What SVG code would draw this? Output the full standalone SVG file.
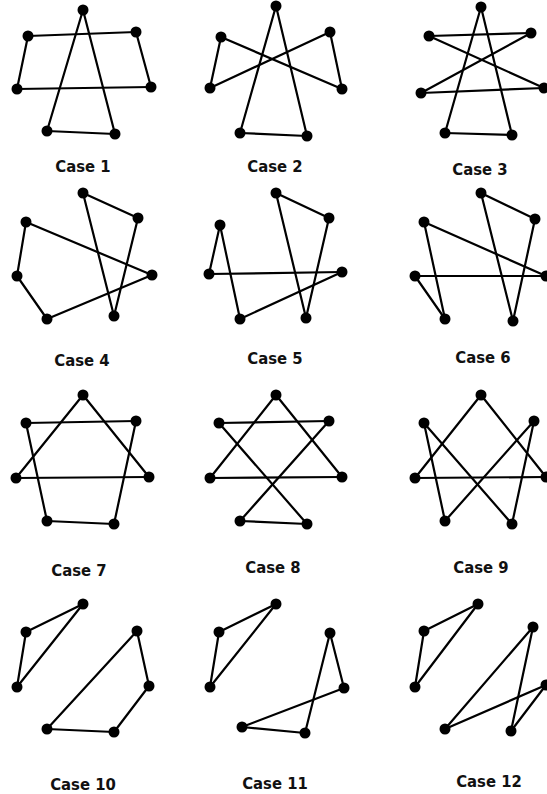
<svg xmlns="http://www.w3.org/2000/svg" width="547" height="794" viewBox="0 0 547 794">
<style>
.e line{stroke:#000;stroke-width:2.2;stroke-linecap:round}
.n circle{fill:#000}
text{font-family:"DejaVu Sans Condensed","DejaVu Sans",sans-serif;font-stretch:condensed;font-weight:bold;font-size:16.5px;fill:#111;text-anchor:middle}
</style>
<rect width="547" height="794" fill="#fff"/>
<g id="connectors" class="e">
<!-- case 1 -->
<line x1="83" y1="10" x2="47" y2="131"/><line x1="83" y1="10" x2="115" y2="134"/><line x1="28" y1="36" x2="136" y2="32"/><line x1="28" y1="36" x2="17" y2="89"/><line x1="136" y1="32" x2="151" y2="87"/><line x1="17" y1="89" x2="151" y2="87"/><line x1="47" y1="131" x2="115" y2="134"/>
<!-- case 2 -->
<line x1="276" y1="6" x2="240" y2="133"/><line x1="276" y1="6" x2="307" y2="136"/><line x1="221" y1="37" x2="210" y2="88"/><line x1="221" y1="37" x2="342" y2="89"/><line x1="330" y1="32" x2="210" y2="88"/><line x1="330" y1="32" x2="342" y2="89"/><line x1="240" y1="133" x2="307" y2="136"/>
<!-- case 3 -->
<line x1="481" y1="7" x2="445" y2="133"/><line x1="481" y1="7" x2="512" y2="135"/><line x1="429" y1="36" x2="531" y2="33"/><line x1="429" y1="36" x2="544" y2="88"/><line x1="531" y1="33" x2="421" y2="93"/><line x1="421" y1="93" x2="544" y2="88"/><line x1="445" y1="133" x2="512" y2="135"/>
<!-- case 4 -->
<line x1="83" y1="193" x2="138" y2="218"/><line x1="83" y1="193" x2="114" y2="316"/><line x1="138" y1="218" x2="114" y2="316"/><line x1="26" y1="222" x2="152" y2="275"/><line x1="26" y1="222" x2="17" y2="276"/><line x1="17" y1="276" x2="47" y2="319"/><line x1="47" y1="319" x2="152" y2="275"/>
<!-- case 5 -->
<line x1="276" y1="193" x2="329" y2="218"/><line x1="276" y1="193" x2="306" y2="318"/><line x1="329" y1="218" x2="306" y2="318"/><line x1="220" y1="225" x2="209" y2="274"/><line x1="220" y1="225" x2="240" y2="319"/><line x1="209" y1="274" x2="342" y2="272"/><line x1="240" y1="319" x2="342" y2="272"/>
<!-- case 6 -->
<line x1="481" y1="193" x2="535" y2="219"/><line x1="481" y1="193" x2="513" y2="321"/><line x1="535" y1="219" x2="513" y2="321"/><line x1="424" y1="222" x2="546" y2="276"/><line x1="424" y1="222" x2="445" y2="319"/><line x1="415" y1="276" x2="546" y2="276"/><line x1="415" y1="276" x2="445" y2="319"/>
<!-- case 7 -->
<line x1="83" y1="395" x2="16" y2="478"/><line x1="83" y1="395" x2="149" y2="477"/><line x1="26" y1="423" x2="136" y2="421"/><line x1="26" y1="423" x2="47" y2="521"/><line x1="136" y1="421" x2="114" y2="524"/><line x1="16" y1="478" x2="149" y2="477"/><line x1="47" y1="521" x2="114" y2="524"/>
<!-- case 8 -->
<line x1="276" y1="395" x2="210" y2="478"/><line x1="276" y1="395" x2="342" y2="477"/><line x1="219" y1="423" x2="329" y2="421"/><line x1="219" y1="423" x2="307" y2="524"/><line x1="329" y1="421" x2="240" y2="521"/><line x1="210" y1="478" x2="342" y2="477"/><line x1="240" y1="521" x2="307" y2="524"/>
<!-- case 9 -->
<line x1="481" y1="395" x2="415" y2="478"/><line x1="481" y1="395" x2="546" y2="477"/><line x1="424" y1="423" x2="445" y2="521"/><line x1="424" y1="423" x2="512" y2="524"/><line x1="534" y1="421" x2="445" y2="521"/><line x1="534" y1="421" x2="512" y2="524"/><line x1="415" y1="478" x2="546" y2="477"/>
<!-- case 10 -->
<line x1="83" y1="604" x2="26" y2="632"/><line x1="83" y1="604" x2="17" y2="687"/><line x1="26" y1="632" x2="17" y2="687"/><line x1="137" y1="631" x2="47" y2="729"/><line x1="137" y1="631" x2="149" y2="686"/><line x1="149" y1="686" x2="114" y2="732"/><line x1="47" y1="729" x2="114" y2="732"/>
<!-- case 11 -->
<line x1="276" y1="604" x2="219" y2="632"/><line x1="276" y1="604" x2="210" y2="687"/><line x1="219" y1="632" x2="210" y2="687"/><line x1="330" y1="633" x2="305" y2="733"/><line x1="330" y1="633" x2="344" y2="688"/><line x1="344" y1="688" x2="242" y2="727"/><line x1="242" y1="727" x2="305" y2="733"/>
<!-- case 12 -->
<line x1="478" y1="604" x2="424" y2="631"/><line x1="478" y1="604" x2="415" y2="687"/><line x1="424" y1="631" x2="415" y2="687"/><line x1="533" y1="627" x2="445" y2="729"/><line x1="533" y1="627" x2="511" y2="731"/><line x1="546" y1="685" x2="445" y2="729"/><line x1="546" y1="685" x2="511" y2="731"/>
</g>
<g id="nodes" class="n">
<g id="c1-a"><circle cx="83" cy="10" r="5.5"/></g><g id="c1-b"><circle cx="28" cy="36" r="5.5"/></g><g id="c1-c"><circle cx="136" cy="32" r="5.5"/></g><g id="c1-d"><circle cx="17" cy="89" r="5.5"/></g><g id="c1-e"><circle cx="151" cy="87" r="5.5"/></g><g id="c1-f"><circle cx="47" cy="131" r="5.5"/></g><g id="c1-g"><circle cx="115" cy="134" r="5.5"/></g>
<g id="c2-a"><circle cx="276" cy="6" r="5.5"/></g><g id="c2-b"><circle cx="221" cy="37" r="5.5"/></g><g id="c2-c"><circle cx="330" cy="32" r="5.5"/></g><g id="c2-d"><circle cx="210" cy="88" r="5.5"/></g><g id="c2-e"><circle cx="342" cy="89" r="5.5"/></g><g id="c2-f"><circle cx="240" cy="133" r="5.5"/></g><g id="c2-g"><circle cx="307" cy="136" r="5.5"/></g>
<g id="c3-a"><circle cx="481" cy="7" r="5.5"/></g><g id="c3-b"><circle cx="429" cy="36" r="5.5"/></g><g id="c3-c"><circle cx="531" cy="33" r="5.5"/></g><g id="c3-d"><circle cx="421" cy="93" r="5.5"/></g><g id="c3-e"><circle cx="544" cy="88" r="5.5"/></g><g id="c3-f"><circle cx="445" cy="133" r="5.5"/></g><g id="c3-g"><circle cx="512" cy="135" r="5.5"/></g>
<g id="c4-a"><circle cx="83" cy="193" r="5.5"/></g><g id="c4-b"><circle cx="26" cy="222" r="5.5"/></g><g id="c4-c"><circle cx="138" cy="218" r="5.5"/></g><g id="c4-d"><circle cx="17" cy="276" r="5.5"/></g><g id="c4-e"><circle cx="152" cy="275" r="5.5"/></g><g id="c4-f"><circle cx="47" cy="319" r="5.5"/></g><g id="c4-g"><circle cx="114" cy="316" r="5.5"/></g>
<g id="c5-a"><circle cx="276" cy="193" r="5.5"/></g><g id="c5-b"><circle cx="220" cy="225" r="5.5"/></g><g id="c5-c"><circle cx="329" cy="218" r="5.5"/></g><g id="c5-d"><circle cx="209" cy="274" r="5.5"/></g><g id="c5-e"><circle cx="342" cy="272" r="5.5"/></g><g id="c5-f"><circle cx="240" cy="319" r="5.5"/></g><g id="c5-g"><circle cx="306" cy="318" r="5.5"/></g>
<g id="c6-a"><circle cx="481" cy="193" r="5.5"/></g><g id="c6-b"><circle cx="424" cy="222" r="5.5"/></g><g id="c6-c"><circle cx="535" cy="219" r="5.5"/></g><g id="c6-d"><circle cx="415" cy="276" r="5.5"/></g><g id="c6-e"><circle cx="546" cy="276" r="5.5"/></g><g id="c6-f"><circle cx="445" cy="319" r="5.5"/></g><g id="c6-g"><circle cx="513" cy="321" r="5.5"/></g>
<g id="c7-a"><circle cx="83" cy="395" r="5.5"/></g><g id="c7-b"><circle cx="26" cy="423" r="5.5"/></g><g id="c7-c"><circle cx="136" cy="421" r="5.5"/></g><g id="c7-d"><circle cx="16" cy="478" r="5.5"/></g><g id="c7-e"><circle cx="149" cy="477" r="5.5"/></g><g id="c7-f"><circle cx="47" cy="521" r="5.5"/></g><g id="c7-g"><circle cx="114" cy="524" r="5.5"/></g>
<g id="c8-a"><circle cx="276" cy="395" r="5.5"/></g><g id="c8-b"><circle cx="219" cy="423" r="5.5"/></g><g id="c8-c"><circle cx="329" cy="421" r="5.5"/></g><g id="c8-d"><circle cx="210" cy="478" r="5.5"/></g><g id="c8-e"><circle cx="342" cy="477" r="5.5"/></g><g id="c8-f"><circle cx="240" cy="521" r="5.5"/></g><g id="c8-g"><circle cx="307" cy="524" r="5.5"/></g>
<g id="c9-a"><circle cx="481" cy="395" r="5.5"/></g><g id="c9-b"><circle cx="424" cy="423" r="5.5"/></g><g id="c9-c"><circle cx="534" cy="421" r="5.5"/></g><g id="c9-d"><circle cx="415" cy="478" r="5.5"/></g><g id="c9-e"><circle cx="546" cy="477" r="5.5"/></g><g id="c9-f"><circle cx="445" cy="521" r="5.5"/></g><g id="c9-g"><circle cx="512" cy="524" r="5.5"/></g>
<g id="c10-a"><circle cx="83" cy="604" r="5.5"/></g><g id="c10-b"><circle cx="26" cy="632" r="5.5"/></g><g id="c10-c"><circle cx="137" cy="631" r="5.5"/></g><g id="c10-d"><circle cx="17" cy="687" r="5.5"/></g><g id="c10-e"><circle cx="149" cy="686" r="5.5"/></g><g id="c10-f"><circle cx="47" cy="729" r="5.5"/></g><g id="c10-g"><circle cx="114" cy="732" r="5.5"/></g>
<g id="c11-a"><circle cx="276" cy="604" r="5.5"/></g><g id="c11-b"><circle cx="219" cy="632" r="5.5"/></g><g id="c11-c"><circle cx="330" cy="633" r="5.5"/></g><g id="c11-d"><circle cx="210" cy="687" r="5.5"/></g><g id="c11-e"><circle cx="344" cy="688" r="5.5"/></g><g id="c11-f"><circle cx="242" cy="727" r="5.5"/></g><g id="c11-g"><circle cx="305" cy="733" r="5.5"/></g>
<g id="c12-a"><circle cx="478" cy="604" r="5.5"/></g><g id="c12-b"><circle cx="424" cy="631" r="5.5"/></g><g id="c12-c"><circle cx="533" cy="627" r="5.5"/></g><g id="c12-d"><circle cx="415" cy="687" r="5.5"/></g><g id="c12-e"><circle cx="546" cy="685" r="5.5"/></g><g id="c12-f"><circle cx="445" cy="729" r="5.5"/></g><g id="c12-g"><circle cx="511" cy="731" r="5.5"/></g>
</g>
<g id="labels">
<text x="83" y="172">Case 1</text>
<text x="275" y="172">Case 2</text>
<text x="480" y="175">Case 3</text>
<text x="82" y="366">Case 4</text>
<text x="275" y="364">Case 5</text>
<text x="483" y="363">Case 6</text>
<text x="79" y="576">Case 7</text>
<text x="273" y="573">Case 8</text>
<text x="481" y="573">Case 9</text>
<text x="83" y="790">Case 10</text>
<text x="275" y="789">Case 11</text>
<text x="489" y="787">Case 12</text>
</g>
</svg>
